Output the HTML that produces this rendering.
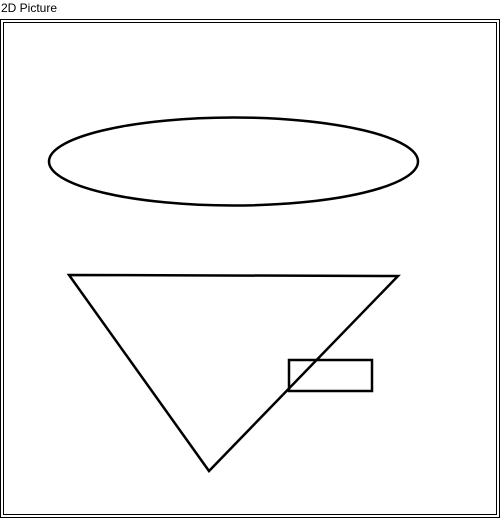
<!DOCTYPE html>
<html><head><meta charset="utf-8"><style>
html,body{margin:0;padding:0;background:#fff;width:500px;height:519px;overflow:hidden}
#t{position:absolute;left:1px;top:1px;font:12px "Liberation Sans",sans-serif;color:#000}
svg{position:absolute;left:0;top:0}
</style></head><body>
<div id="t">2D Picture</div>
<svg width="500" height="519">
<rect x="0.5" y="19.5" width="499" height="498" fill="none" stroke="#000"/>
<rect x="3.5" y="22.5" width="493" height="492" fill="none" stroke="#000"/>
<ellipse cx="233.5" cy="161.5" rx="184.5" ry="44" fill="none" stroke="#000" stroke-width="2.5"/>
<polygon points="69,275 398,276 209,471" fill="none" stroke="#000" stroke-width="2.5"/>
<rect x="289" y="360" width="83" height="31" fill="none" stroke="#000" stroke-width="2.5"/>
</svg>
</body></html>
